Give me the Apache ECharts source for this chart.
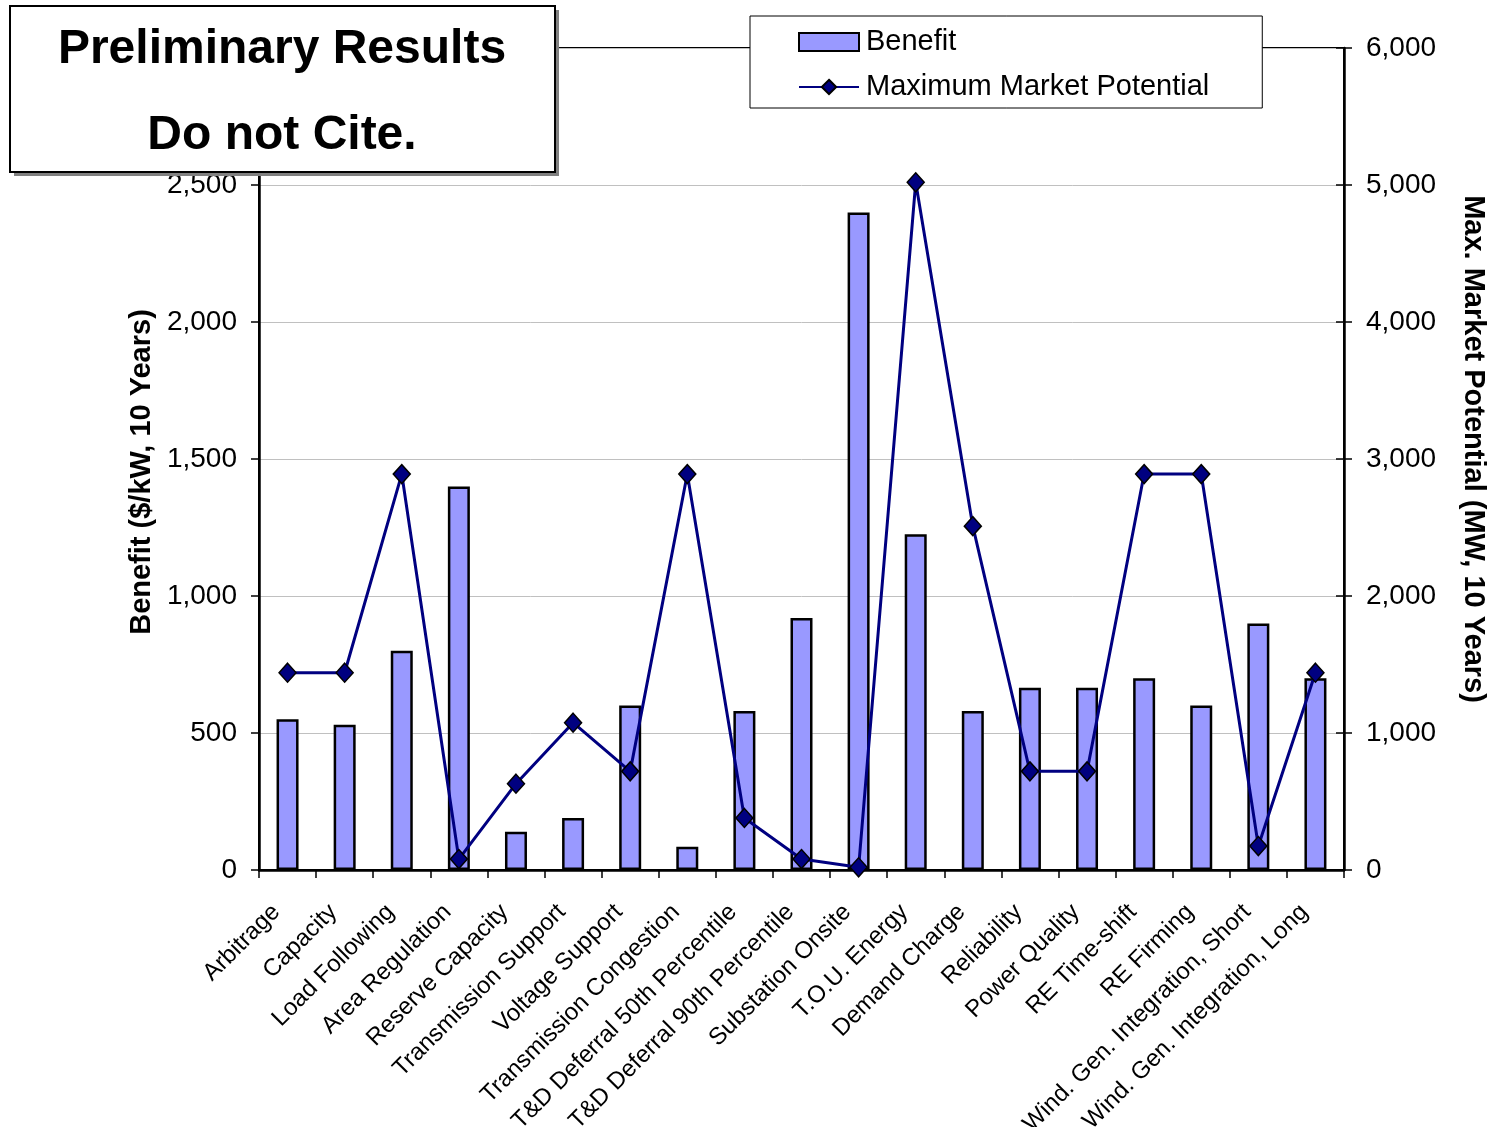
<!DOCTYPE html>
<html>
<head>
<meta charset="utf-8">
<script src="https://cdn.jsdelivr.net/npm/echarts@6/dist/echarts.min.js"></script>
<style>
  html, body { margin: 0; padding: 0; background: #fff; overflow: hidden; }
  #chart { width: 1491px; height: 1127px; }
</style>
</head>
<body>
<div id="chart"></div>
<script>
// Storage applications
const categories = [
  'Arbitrage', 'Capacity', 'Load Following', 'Area Regulation', 'Reserve Capacity',
  'Transmission Support', 'Voltage Support', 'Transmission Congestion',
  'T&D Deferral 50th Percentile', 'T&D Deferral 90th Percentile', 'Substation Onsite',
  'T.O.U. Energy', 'Demand Charge', 'Reliability', 'Power Quality', 'RE Time-shift',
  'RE Firming', 'Wind. Gen. Integration, Short', 'Wind. Gen. Integration, Long'
];

// Benefit, $/kW over 10 years (left axis)
const benefit = [550, 530, 800, 1400, 140, 190, 600, 85, 580, 920, 2400, 1225, 580, 665, 665, 700, 600, 900, 700];

// Maximum market potential, MW over 10 years (right axis)
const marketPotential = [1440, 1440, 2890, 80, 630, 1075, 720, 2890, 380, 80, 20, 5020, 2510, 720, 720, 2890, 2890, 175, 1440];

// Axis scales
const benefitTicks = { min: 0, max: 3000, interval: 500 };
const potentialTicks = { min: 0, max: 6000, interval: 1000 };

const FONT = '"Liberation Sans", Arial, sans-serif';
const BOLD48 = 'bold 48px "Liberation Sans", Arial, sans-serif';
const chart = echarts.init(document.getElementById('chart'), null, { renderer: 'canvas' });

const fmt = v => v.toLocaleString('en-US');

chart.setOption({
  backgroundColor: '#fff',
  animation: false,
  textStyle: { fontFamily: FONT, color: '#000' },
  grid: {
    left: 259, right: 147, top: 48, bottom: 257,
    containLabel: false,
    outerBoundsMode: 'none',
    show: true, borderColor: '#000', borderWidth: 2, backgroundColor: 'transparent'
  },
  legend: {
    orient: 'vertical',
    left: 750, top: 16,
    padding: [11, 53, 6, 48],
    itemGap: 15,
    itemWidth: 60, itemHeight: 18,
    backgroundColor: '#fff',
    borderColor: '#000', borderWidth: 1,
    textStyle: { fontSize: 29, lineHeight: 30, color: '#000', fontFamily: FONT, padding: [0, 0, 0, 2] },
    data: [
      { name: 'Benefit', icon: 'rect' },
      { name: 'Maximum Market Potential' }
    ],
    z: 20
  },
  xAxis: {
    type: 'category',
    data: categories,
    boundaryGap: true,
    axisLine: { lineStyle: { color: '#000', width: 2.5 } },
    axisTick: { show: true, alignWithLabel: false, length: 8, lineStyle: { color: '#000', width: 1.5 } },
    axisLabel: {
      interval: 0, rotate: 45, margin: 27,
      padding: [0, 16, 0, 0],
      fontSize: 24, color: '#000', fontFamily: FONT
    },
    splitLine: { show: false }
  },
  yAxis: [
    {
      type: 'value', position: 'left',
      min: benefitTicks.min, max: benefitTicks.max, interval: benefitTicks.interval,
      name: 'Benefit ($/kW, 10 Years)',
      nameLocation: 'middle', nameRotate: 90, nameGap: 103,
      nameTextStyle: { fontSize: 29, fontWeight: 'bold', color: '#000', fontFamily: FONT, padding: [0, 26, 0, 0] },
      axisLine: { show: true, lineStyle: { color: '#000', width: 2.5 } },
      axisTick: { show: true, length: 8, lineStyle: { color: '#000', width: 1.5 } },
      axisLabel: { margin: 22, fontSize: 28, color: '#000', fontFamily: FONT, formatter: fmt },
      splitLine: { show: true, lineStyle: { color: '#c0c0c0', width: 1 } }
    },
    {
      type: 'value', position: 'right',
      min: potentialTicks.min, max: potentialTicks.max, interval: potentialTicks.interval,
      name: 'Max. Market Potential (MW, 10 Years)',
      nameLocation: 'middle', nameRotate: -90, nameGap: 114,
      nameTextStyle: { fontSize: 29, fontWeight: 'bold', color: '#000', fontFamily: FONT, padding: [0, 20, 0, 0] },
      axisLine: { show: true, lineStyle: { color: '#000', width: 2.5 } },
      axisTick: { show: true, length: 8, lineStyle: { color: '#000', width: 1.5 } },
      axisLabel: { margin: 22, fontSize: 28, color: '#000', fontFamily: FONT, formatter: fmt },
      splitLine: { show: false }
    },
    {
      // inner half of the right axis' cross ticks
      type: 'value', position: 'right',
      min: potentialTicks.min, max: potentialTicks.max, interval: potentialTicks.interval,
      axisLine: { show: false },
      axisTick: { show: true, inside: true, length: 8, lineStyle: { color: '#000', width: 1.5 } },
      axisLabel: { show: false },
      splitLine: { show: false }
    }
  ],
  series: [
    {
      name: 'Benefit',
      type: 'bar',
      yAxisIndex: 0,
      data: benefit,
      barWidth: 22,
      itemStyle: { color: '#9999ff', borderColor: '#000', borderWidth: 2.5 },
      z: 2
    },
    {
      name: 'Maximum Market Potential',
      type: 'line',
      yAxisIndex: 1,
      data: marketPotential,
      symbol: 'diamond',
      symbolSize: [17, 19],
      showAllSymbol: true,
      lineStyle: { color: '#000080', width: 3 },
      itemStyle: { color: '#000080', borderColor: '#000', borderWidth: 1.5 },
      z: 3
    }
  ],
  graphic: [
    { type: 'rect', z: 100, shape: { x: 14, y: 10, width: 545, height: 166 }, style: { fill: '#808080' } },
    { type: 'rect', z: 101, shape: { x: 10, y: 6, width: 545, height: 166 }, style: { fill: '#fff', stroke: '#000', lineWidth: 2 } },
    { type: 'text', z: 102, x: 282, y: 50, style: { text: 'Preliminary Results', font: BOLD48, fill: '#000', align: 'center', verticalAlign: 'middle' } },
    { type: 'text', z: 102, x: 282, y: 136, style: { text: 'Do not Cite.', font: BOLD48, fill: '#000', align: 'center', verticalAlign: 'middle' } }
  ]
});
</script>
</body>
</html>
